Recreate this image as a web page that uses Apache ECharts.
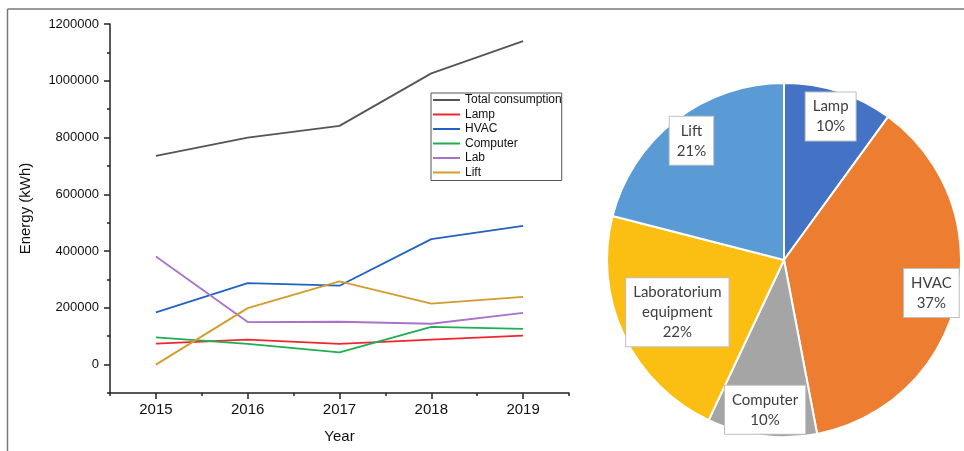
<!DOCTYPE html>
<html>
<head>
<meta charset="utf-8">
<script src="https://cdn.jsdelivr.net/npm/echarts@6/dist/echarts.min.js"></script>
<style>
  html, body { margin: 0; padding: 0; background: #fff; }
  #chart { width: 964px; height: 451px; }
</style>
</head>
<body>
<div id="chart"></div>
<script>
// yearly consumption (kWh)
const years = [2015, 2016, 2017, 2018, 2019];
const totalUse = [735000, 800000, 841000, 1026000, 1140000];
const lampUse = [74000, 88000, 73000, 88000, 102000];
const hvacUse = [184000, 287000, 278000, 442000, 489000];
const computerUse = [96000, 73000, 43000, 133000, 126000];
const labUse = [381000, 150000, 151000, 144000, 182000];
const liftUse = [0, 199000, 293000, 215000, 239000];
const yTicks = [0, 200000, 400000, 600000, 800000, 1000000, 1200000];

// share of consumption (%), pie chart
const pieNames = ['Lamp', 'HVAC', 'Computer', 'Laboratorium equipment', 'Lift'];
const pieShares = [10, 37, 10, 22, 21];
const pieColors = ['#4472c4', '#ed7d31', '#a5a5a5', '#fbbf14', '#5b9bd5'];

const axisColor = '#222';
const font = 'Liberation Sans';

function pts(arr) {
	return years.map((y, i) => [y, arr[i]]);
}

function lineSeries(name, arr, color) {
	return {
		name: name,
		type: 'line',
		data: pts(arr),
		color: color,
		showSymbol: false,
		symbol: 'none',
		lineStyle: {color: color, width: 1.8},
		silent: true
	};
}

let chart = echarts.init(document.getElementById('chart'));

let option = {
	animation: false,
	grid: {left: 110, right: 395, top: 24, bottom: 58, outerBoundsMode: 'none'},
	legend: {
		orient: 'vertical',
		left: 431,
		top: 93,
		icon: 'rect',
		itemWidth: 27,
		itemHeight: 2,
		itemGap: 2.5,
		padding: [1, 0, 2, 2],
		borderColor: '#555',
		borderWidth: 1,
		textStyle: {fontFamily: font, fontSize: 12, color: '#111', lineHeight: 12},
		data: ['Total consumption', 'Lamp', 'HVAC', 'Computer', 'Lab', 'Lift']
	},
	xAxis: [
		{
			type: 'value',
			min: 2014.5,
			max: 2019.5,
			interval: 0.5,
			name: 'Year',
			nameLocation: 'middle',
			nameGap: 36,
			nameTextStyle: {fontFamily: font, fontSize: 15, color: '#111'},
			axisLine: {onZero: false, lineStyle: {color: axisColor, width: 1.5}},
			axisTick: {length: 3, lineStyle: {color: axisColor, width: 1.5}},
			axisLabel: {show: false},
			splitLine: {show: false}
		},
		{
			type: 'value',
			min: 2014.5,
			max: 2019.5,
			position: 'bottom',
			axisLine: {show: false, onZero: false},
			axisTick: {length: 6, customValues: years, lineStyle: {color: axisColor, width: 1.5}},
			axisLabel: {customValues: years, formatter: v => String(v), fontFamily: font, fontSize: 15, color: '#111', margin: 9},
			splitLine: {show: false}
		}
	],
	yAxis: [
		{
			type: 'value',
			min: -100000,
			max: 1200000,
			interval: 100000,
			name: 'Energy (kWh)',
			nameLocation: 'middle',
			nameGap: 77,
			nameTextStyle: {fontFamily: font, fontSize: 15, color: '#111'},
			axisLine: {show: true, onZero: false, lineStyle: {color: axisColor, width: 1.5}},
			axisTick: {show: true, length: 3, lineStyle: {color: axisColor, width: 1.5}},
			axisLabel: {show: false},
			splitLine: {show: false}
		},
		{
			type: 'value',
			min: -100000,
			max: 1200000,
			position: 'left',
			axisLine: {show: false, onZero: false},
			axisTick: {show: true, length: 6, customValues: yTicks, lineStyle: {color: axisColor, width: 1.5}},
			axisLabel: {customValues: yTicks, formatter: v => String(v), fontFamily: font, fontSize: 13, color: '#111', margin: 11},
			splitLine: {show: false}
		}
	],
	series: [
		lineSeries('Total consumption', totalUse, '#555555'),
		lineSeries('Lamp', lampUse, '#f0262e'),
		lineSeries('HVAC', hvacUse, '#2163c2'),
		lineSeries('Computer', computerUse, '#1fae52'),
		lineSeries('Lab', labUse, '#a873c9'),
		lineSeries('Lift', liftUse, '#d39c2c'),
		{
			type: 'pie',
			center: [784, 260],
			radius: 177,
			startAngle: 90,
			clockwise: true,
			silent: true,
			label: {show: false},
			labelLine: {show: false},
			itemStyle: {borderColor: '#fff', borderWidth: 2},
			data: pieNames.map((n, i) => ({name: n, value: pieShares[i], itemStyle: {color: pieColors[i]}}))
		},
		{
			// transparent ring used only to seat the labels
			type: 'pie',
			center: [784, 260],
			radius: [100, 196],
			startAngle: 90,
			clockwise: true,
			silent: true,
			itemStyle: {color: 'rgba(0,0,0,0)'},
			labelLine: {show: false},
			label: {
				show: true,
				position: 'inside',
				formatter: p => p.name.replace(' ', '\n') + '\n' + p.value + '%',
				fontFamily: 'Lato',
				fontSize: 15,
				lineHeight: 20,
				color: '#404040',
				backgroundColor: '#fff',
				borderColor: '#bfbfbf',
				borderWidth: 1,
				padding: [4, 7, 4, 7]
			},
			labelLayout: p => (p.dataIndex === 3 ? {dx: 30, dy: -12} : {}),
			data: pieNames.map((n, i) => ({name: n, value: pieShares[i]}))
		}
	],
	graphic: [
		{type: 'line', shape: {x1: 7.5, y1: 9, x2: 964, y2: 9}, style: {stroke: '#777', lineWidth: 1.5}, silent: true},
		{type: 'line', shape: {x1: 7.5, y1: 9, x2: 7.5, y2: 451}, style: {stroke: '#777', lineWidth: 1.5}, silent: true}
	]
};

chart.setOption(option);
</script>
</body>
</html>
